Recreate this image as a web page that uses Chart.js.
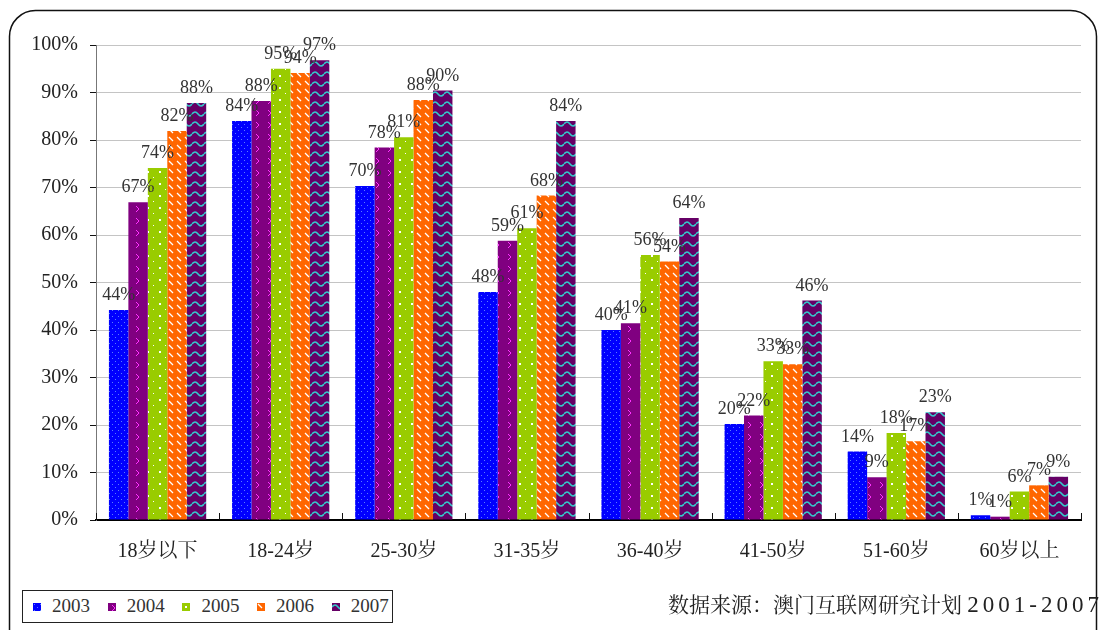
<!DOCTYPE html>
<html>
<head>
<meta charset="utf-8">
<script src="https://cdn.jsdelivr.net/npm/chart.js@4/dist/chart.umd.min.js"></script>
<style>
  body { margin: 0; background: #fff; }
  #wrap { position: relative; width: 1120px; height: 630px; overflow: hidden; }
  #chart { position: absolute; left: 0; top: 0; }
  #legend {
    position: absolute; left: 22px; top: 590px; width: 369px; height: 31px;
    border: 1px solid #222; background: #fff;
    font: 19px 'Liberation Serif', serif; color: #333;
  }
  #legend .item { position: absolute; top: 4px; line-height: 22px; }
  #legend canvas { position: absolute; left: 0; top: 8px; }
  #legend span { position: absolute; left: 19px; top: 0; }
  #source {
    position: absolute; left: 668px; top: 588px; white-space: nowrap;
    font: 21px 'Liberation Serif', 'Noto Serif CJK SC', 'Noto Sans CJK SC', serif; color: #222;
  }
  #source .yr { font-size: 23px; letter-spacing: 4px; }
</style>
</head>
<body>
<div id="wrap">
  <canvas id="chart" width="1120" height="630"></canvas>
  <div id="legend"></div>
  <div id="source">数据来源：澳门互联网研究计划 <span class="yr">2001-2007</span></div>
</div>
<script>
const categories = ['18岁以下', '18-24岁', '25-30岁', '31-35岁', '36-40岁', '41-50岁', '51-60岁', '60岁以上'];
const years = ['2003', '2004', '2005', '2006', '2007'];
const v2003 = [44.2, 84.0, 70.3, 48.0, 40.0, 20.2, 14.4, 1.0];
const v2004 = [66.9, 88.2, 78.4, 58.8, 41.4, 22.0, 9.0, 0.7];
const v2005 = [74.1, 95.0, 80.6, 61.4, 55.8, 33.4, 18.3, 6.0];
const v2006 = [81.9, 94.1, 88.4, 68.3, 54.4, 32.8, 16.6, 7.3];
const v2007 = [87.8, 96.8, 90.4, 84.0, 63.6, 46.2, 22.7, 9.1];
const yTicks = [0, 10, 20, 30, 40, 50, 60, 70, 80, 90, 100];

const SERIF = "'Liberation Serif', 'Noto Serif CJK SC', 'Noto Sans CJK SC', serif";

// small tiles used as fill patterns, similar to the old office chart fills
function tile(w, h, bg, paint) {
    const c = document.createElement('canvas');
    c.width = w; c.height = h;
    const g = c.getContext('2d');
    g.fillStyle = bg;
    g.fillRect(0, 0, w, h);
    paint(g);
    return c;
}

const tiles = [
    tile(6, 6, '#0000ff', g => {
        g.fillStyle = '#5b7cff';
        g.fillRect(1, 1, 1, 1);
        g.fillRect(4, 4, 1, 1);
    }),
    tile(12, 12, '#800080', g => {
        g.strokeStyle = '#ff33ff';
        g.lineWidth = 1;
        g.beginPath();
        g.moveTo(4, 2); g.lineTo(7, 5); g.lineTo(4, 8);
        g.stroke();
    }),
    tile(12, 12, '#99cc00', g => {
        g.fillStyle = '#ffffff';
        g.fillRect(3, 3, 2, 2);
        g.fillRect(9, 9, 1, 1);
    }),
    tile(8, 8, '#ff6600', g => {
        g.strokeStyle = '#ffffff';
        g.lineWidth = 1.3;
        g.beginPath();
        g.moveTo(1, 1); g.lineTo(5, 5);
        g.stroke();
    }),
    tile(12, 10, '#660066', g => {
        g.strokeStyle = '#33cccc';
        g.lineWidth = 1.5;
        g.beginPath();
        g.moveTo(0, 4);
        g.quadraticCurveTo(3, 0, 6, 4);
        g.quadraticCurveTo(9, 8, 12, 4);
        g.stroke();
    }),
];

const ctx = document.getElementById('chart').getContext('2d');
const fills = tiles.map(t => ctx.createPattern(t, 'repeat'));
const series = [v2003, v2004, v2005, v2006, v2007];

// rounded outer frame
const framePlugin = {
    id: 'frame',
    beforeDraw(chart) {
        const c = chart.ctx;
        c.save();
        c.strokeStyle = '#111';
        c.lineWidth = 1.5;
        c.beginPath();
        c.roundRect(9.5, 10.5, 1087, 660, 26);
        c.stroke();
        c.restore();
    },
};

// value labels above each bar + category ticks pointing up from the x axis
const labelPlugin = {
    id: 'labels',
    afterDatasetsDraw(chart) {
        const c = chart.ctx;
        c.save();
        c.font = '18px ' + SERIF;
        c.fillStyle = '#333';
        c.textAlign = 'center';
        c.textBaseline = 'alphabetic';
        chart.data.datasets.forEach((ds, di) => {
            chart.getDatasetMeta(di).data.forEach((bar, i) => {
                c.fillText(Math.round(ds.data[i]) + '%', bar.x, bar.y - 10);
            });
        });
        const xs = chart.scales.x;
        c.strokeStyle = '#111';
        c.lineWidth = 1;
        for (let i = 0; i <= categories.length; i++) {
            const px = Math.round(xs.getPixelForValue(i - 0.5)) + 0.5;
            c.beginPath();
            c.moveTo(px, xs.top - 7);
            c.lineTo(px, xs.top);
            c.stroke();
        }
        c.restore();
    },
};

const chart = new Chart(ctx, {
    type: 'bar',
    data: {
        labels: categories,
        datasets: years.map((y, i) => ({
            label: y,
            data: series[i],
            backgroundColor: fills[i],
            borderWidth: 0,
            barPercentage: 1,
            categoryPercentage: 0.79,
        })),
    },
    options: {
        responsive: false,
        animation: false,
        layout: { padding: { left: 0, right: 39, top: 45, bottom: 0 } },
        plugins: {
            legend: { display: false },
            tooltip: { enabled: false },
        },
        scales: {
            x: {
                afterFit: s => { s.height = 110; },
                grid: { drawOnChartArea: false, drawTicks: false },
                border: { display: true, color: '#000', width: 2 },
                ticks: { padding: 20, color: '#222', font: { size: 20, family: SERIF } },
            },
            y: {
                min: 0,
                max: 100,
                afterFit: s => { s.width = 96; },
                afterBuildTicks: s => { s.ticks = yTicks.map(v => ({ value: v })); },
                grid: { color: '#c4c4c4', tickColor: '#111', tickLength: 6, lineWidth: 1 },
                border: { display: true, color: '#777', width: 1 },
                ticks: {
                    padding: 12,
                    color: '#222',
                    font: { size: 20, family: SERIF },
                    callback: v => v + '%',
                },
            },
        },
    },
    plugins: [framePlugin, labelPlugin],
});

// legend box drawn as html, one swatch per year using the same tiles
const legend = document.getElementById('legend');
years.forEach((y, i) => {
    const item = document.createElement('div');
    item.className = 'item';
    item.style.left = (10 + i * 74.7) + 'px';
    const sw = document.createElement('canvas');
    sw.width = 8; sw.height = 8;
    const g = sw.getContext('2d');
    g.fillStyle = g.createPattern(tiles[i], 'repeat');
    g.fillRect(0, 0, 8, 8);
    const tx = document.createElement('span');
    tx.textContent = y;
    item.appendChild(sw);
    item.appendChild(tx);
    legend.appendChild(item);
});
</script>
</body>
</html>
